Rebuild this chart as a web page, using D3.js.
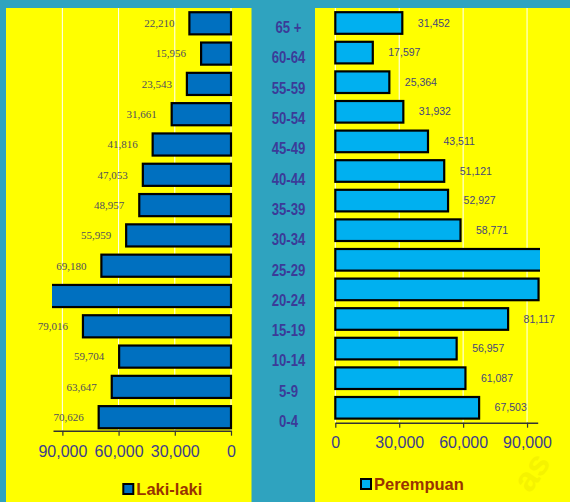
<!DOCTYPE html>
<html>
<head>
<meta charset="utf-8">
<script src="https://cdn.jsdelivr.net/npm/d3@7"></script>
<style>
  html, body { margin: 0; padding: 0; background: #2fa3bf; }
  svg { display: block; }
</style>
</head>
<body>
<svg id="chart" width="570" height="502"></svg>
<script>
// ---- data ----
const ageGroups = ["65 +", "60-64", "55-59", "50-54", "45-49", "40-44", "35-39", "30-34", "25-29", "20-24", "15-19", "10-14", "5-9", "0-4"];
const maleValues = [22210, 15956, 23543, 31661, 41816, 47053, 48957, 55959, 69180, 97000, 79016, 59704, 63647, 70626];
const femaleValues = [31452, 17597, 25364, 31932, 43511, 51121, 52927, 58771, 97000, 95400, 81117, 56957, 61087, 67503];
const tickValues = [0, 30000, 60000, 90000];
const axisMax = 95000;
const legendMale = "Laki-laki";
const legendFemale = "Perempuan";

const svg = d3.select("#chart");
const fmt = d3.format(",");

// backgrounds
svg.append("rect").attr("x", 0).attr("y", 0).attr("width", 570).attr("height", 502).attr("fill", "#2fa3bf");
svg.append("rect").attr("x", 6).attr("y", 8).attr("width", 245.5).attr("height", 494).attr("fill", "#ffff00");
svg.append("rect").attr("x", 315).attr("y", 8).attr("width", 255).attr("height", 494).attr("fill", "#ffff00");

// faint watermark
svg.append("text")
  .attr("transform", "translate(530,494) rotate(-55)")
  .attr("font-family", "Liberation Sans, Arial, sans-serif")
  .attr("font-weight", "bold")
  .attr("font-size", 34)
  .attr("fill", "#f5f300")
  .text("as");

const defs = svg.append("defs");
defs.append("clipPath").attr("id", "clipL").append("rect").attr("x", 52).attr("y", 0).attr("width", 200).attr("height", 440);
defs.append("clipPath").attr("id", "clipR").append("rect").attr("x", 315).attr("y", 0).attr("width", 225).attr("height", 440);

// ---- left (male) ----
const xL = d3.scaleLinear().domain([0, axisMax]).range([231, 53]);
const yL = d3.scaleBand().domain(ageGroups).range([8.15, 432.35]).paddingInner(0.27).paddingOuter(0.135);
const axisYL = 430.7;

const gL = svg.append("g");
gL.selectAll("line.grid").data(tickValues).enter().append("line")
  .attr("x1", d => xL(d)).attr("x2", d => xL(d))
  .attr("y1", 8).attr("y2", axisYL)
  .attr("stroke", "#ffffff").attr("stroke-width", 1);

gL.append("g").attr("clip-path", "url(#clipL)")
  .selectAll("rect").data(ageGroups).enter().append("rect")
  .attr("x", (d, i) => xL(maleValues[i]))
  .attr("width", (d, i) => xL(0) - xL(maleValues[i]))
  .attr("y", d => yL(d))
  .attr("height", yL.bandwidth())
  .attr("fill", "#0070c0")
  .attr("stroke", "#000").attr("stroke-width", 2.2);

gL.selectAll("text.val").data(ageGroups.filter((d, i) => maleValues[i] <= axisMax)).enter().append("text")
  .attr("x", d => xL(maleValues[ageGroups.indexOf(d)]) - 15)
  .attr("y", d => yL(d) + yL.bandwidth() / 2)
  .attr("dy", "0.35em")
  .attr("text-anchor", "end")
  .attr("font-family", "Liberation Serif, Times New Roman, serif")
  .attr("font-size", 11)
  .attr("fill", "#4f4f5c")
  .text(d => fmt(maleValues[ageGroups.indexOf(d)]));

const axL = svg.append("g").attr("transform", `translate(0,${axisYL})`)
  .call(d3.axisBottom(xL).tickValues(tickValues).tickFormat(fmt).tickSize(5).tickSizeOuter(0).tickPadding(10));
axL.select(".domain").attr("stroke", "#333").attr("stroke-width", 1.5);
axL.selectAll(".tick line").attr("stroke", "#333").attr("stroke-width", 1.2);
axL.selectAll(".tick text").attr("font-family", "Liberation Sans, Arial, sans-serif").attr("font-size", 16).attr("fill", "#3c3c8c");

// ---- right (female) ----
const xR = d3.scaleLinear().domain([0, axisMax]).range([335.3, 537.7]);
const yR = d3.scaleBand().domain(ageGroups).range([8.2, 422.6]).paddingInner(0.27).paddingOuter(0.135);
const axisYR = 422.7;

const gR = svg.append("g");
gR.selectAll("line.grid").data(tickValues).enter().append("line")
  .attr("x1", d => xR(d)).attr("x2", d => xR(d))
  .attr("y1", 8).attr("y2", axisYR)
  .attr("stroke", "#ffffff").attr("stroke-width", 1);

gR.append("g").attr("clip-path", "url(#clipR)")
  .selectAll("rect").data(ageGroups).enter().append("rect")
  .attr("x", xR(0))
  .attr("width", (d, i) => xR(femaleValues[i]) - xR(0))
  .attr("y", d => yR(d))
  .attr("height", yR.bandwidth())
  .attr("fill", "#00b0f0")
  .attr("stroke", "#000").attr("stroke-width", 2.2);

gR.selectAll("text.val").data(ageGroups.filter((d, i) => femaleValues[i] <= 90000)).enter().append("text")
  .attr("x", d => xR(femaleValues[ageGroups.indexOf(d)]) + 15.5)
  .attr("y", d => yR(d) + yR.bandwidth() / 2)
  .attr("dy", "0.35em")
  .attr("text-anchor", "start")
  .attr("font-family", "Liberation Sans, Arial, sans-serif")
  .attr("font-size", 10.5)
  .attr("fill", "#46467a")
  .text(d => fmt(femaleValues[ageGroups.indexOf(d)]));

const axR = svg.append("g").attr("transform", `translate(0,${axisYR})`)
  .call(d3.axisBottom(xR).tickValues(tickValues).tickFormat(fmt).tickSize(5).tickSizeOuter(0).tickPadding(8.8));
axR.select(".domain").attr("stroke", "#333").attr("stroke-width", 1.5);
axR.selectAll(".tick line").attr("stroke", "#333").attr("stroke-width", 1.2);
axR.selectAll(".tick text").attr("font-family", "Liberation Sans, Arial, sans-serif").attr("font-size", 16).attr("fill", "#3c3c8c");

// ---- middle age labels ----
svg.append("g").selectAll("text").data(ageGroups).enter().append("text")
  .attr("transform", d => `translate(288.5,${yL(d) + yL.bandwidth() / 2 + 9.8}) scale(0.82,1)`)
  .attr("text-anchor", "middle")
  .attr("font-family", "Liberation Sans, Arial, sans-serif")
  .attr("font-weight", "bold")
  .attr("font-size", 16)
  .attr("fill", "#3b3b98")
  .text(d => d);

// ---- legends ----
function legend(x, y, color, label) {
  svg.append("rect").attr("x", x).attr("y", y).attr("width", 10).attr("height", 10)
    .attr("fill", color).attr("stroke", "#000").attr("stroke-width", 2);
  svg.append("text").attr("x", x + 13).attr("y", y + 5).attr("dy", "0.36em")
    .attr("font-family", "Liberation Sans, Arial, sans-serif")
    .attr("font-weight", "bold").attr("font-size", 16.5)
    .attr("fill", "#993300").text(label);
}
legend(123.3, 484, "#0070c0", legendMale);
legend(361, 479, "#00b0f0", legendFemale);
</script>
</body>
</html>
